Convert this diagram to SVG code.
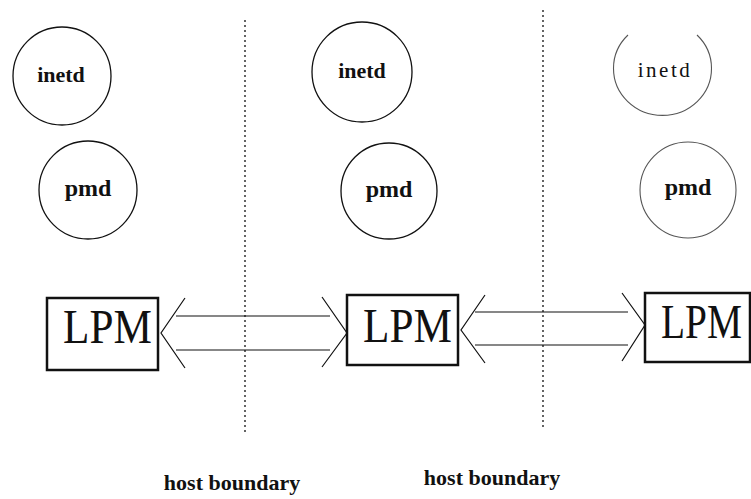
<svg xmlns="http://www.w3.org/2000/svg" width="751" height="499" viewBox="0 0 751 499">
<style>
.c{fill:none;stroke:#111;stroke-width:1.3}
.cf{fill:none;stroke:#555;stroke-width:1.1}
.b{fill:#fff;stroke:#111;stroke-width:2.5}
.l{fill:none;stroke:#111;stroke-width:1.2}
.d{fill:none;stroke:#111;stroke-width:1.3;stroke-dasharray:2 3}
text{fill:#111;text-anchor:middle}
.t{font-weight:bold;font-size:22px}
.p{font-weight:bold;font-size:24px}
.tr{font-size:21px;letter-spacing:2.5px}
.lpm{font-size:48px;text-anchor:start}
.h{font-weight:bold;font-size:22px}
</style>
<rect width="751" height="499" fill="#fff"/>
<g id="boundaries">
<line class="d" x1="245" y1="20" x2="245" y2="435"/>
<line class="d" x1="543" y1="10" x2="543" y2="430"/>
<text class="h" font-family="'Liberation Serif', 'DejaVu Serif', serif" x="232" y="490">host boundary</text>
<text class="h" font-family="'Liberation Serif', 'DejaVu Serif', serif" x="492" y="485">host boundary</text>
</g>
<g id="inetd1"><circle class="c" cx="62" cy="76" r="49"/><text class="t" font-family="'Liberation Serif', 'DejaVu Serif', serif" x="61" y="82">inetd</text></g>
<g id="pmd1"><circle class="c" cx="88" cy="190" r="49"/><text class="p" font-family="'Liberation Serif', 'DejaVu Serif', serif" x="88" y="196">pmd</text></g>
<g id="inetd2"><circle class="c" cx="362" cy="72" r="50"/><text class="t" font-family="'Liberation Serif', 'DejaVu Serif', serif" x="362" y="78">inetd</text></g>
<g id="pmd2"><circle class="c" cx="389" cy="191" r="48"/><text class="p" font-family="'Liberation Serif', 'DejaVu Serif', serif" x="389" y="197">pmd</text></g>
<g id="inetd3"><path class="cf" d="M 628 35 A 49 47 0 1 0 697 35"/><text class="tr" font-family="'Liberation Serif', 'DejaVu Serif', serif" x="665" y="77">inetd</text></g>
<g id="pmd3"><circle class="cf" cx="688" cy="190" r="48"/><text class="p" font-family="'Liberation Serif', 'DejaVu Serif', serif" x="688" y="195">pmd</text></g>
<g id="lpm1"><rect class="b" x="47" y="298" width="111" height="72"/><text class="lpm" font-family="'Liberation Serif', 'DejaVu Serif', serif" transform="translate(63 343) scale(0.9 1)" x="0" y="0">LPM</text></g>
<g id="lpm2"><rect class="b" x="347" y="295" width="111" height="70"/><text class="lpm" font-family="'Liberation Serif', 'DejaVu Serif', serif" transform="translate(363 342) scale(0.9 1)" x="0" y="0">LPM</text></g>
<g id="lpm3"><rect class="b" x="645" y="293" width="105" height="69"/><text class="lpm" font-family="'Liberation Serif', 'DejaVu Serif', serif" transform="translate(661 338) scale(0.82 1)" x="0" y="0">LPM</text></g>
<g id="connectors">
<path class="l" d="M185 298 L161 333 L185 368"/>
<line class="l" x1="176" y1="316" x2="330" y2="316"/>
<line class="l" x1="176" y1="350" x2="330" y2="350"/>
<path class="l" d="M322 297 L347 333 L322 367"/>
<path class="l" d="M485 295 L461 330 L485 363"/>
<line class="l" x1="475" y1="312" x2="628" y2="312"/>
<line class="l" x1="475" y1="345" x2="628" y2="345"/>
<path class="l" d="M622 293 L645 325 L622 361"/>
</g>
</svg>
